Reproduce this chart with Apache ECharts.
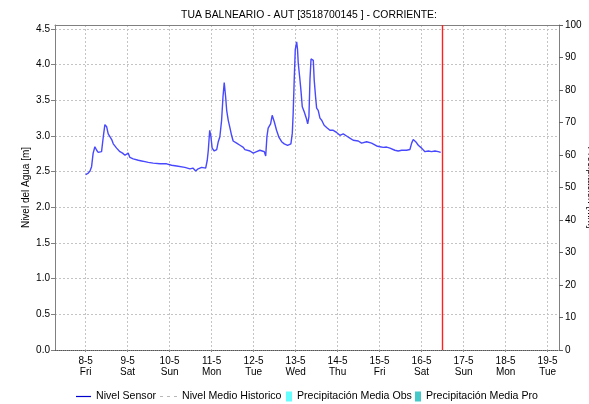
<!DOCTYPE html>
<html>
<head>
<meta charset="utf-8">
<script src="https://cdn.jsdelivr.net/npm/echarts@6/dist/echarts.min.js"></script>
<style>
html,body{margin:0;padding:0;background:#fff}
#chart{width:589px;height:404px}
</style>
</head>
<body>
<div id="chart"></div>
<script>
// Time of each reading, in hours since 8-5 00:00
const hours = [
  0, 1.5, 2.5, 3.4, 4.3, 5.3, 6.3, 7.2, 8.2, 9.1, 10.1, 11.0, 12.0, 12.9, 13.9, 14.9, 15.8, 17.7, 19.6, 21.1,
  22.5, 24.3, 25.3, 27.2, 30.1, 32.0, 33.9, 35.8, 36.7, 38.6, 42.5, 46.3, 49.1, 52.0, 53.0, 56.7, 57.7, 59.6, 61.3, 62.9,
  64.3, 66.3, 68.6, 69.5, 70.1, 70.9, 71.6, 72.3, 73.5, 74.9, 75.8, 76.7, 77.7, 78.5, 79.2, 80.0, 80.6, 81.5, 82.5, 83.4,
  84.3, 86.3, 88.2, 90.1, 91.0, 92.0, 93.9, 95.8, 97.7, 99.6, 100.9, 102.1, 102.9, 103.6, 104.3, 105.7, 106.6, 107.8, 109.1, 110.5,
  112.0, 113.5, 115.4, 117.3, 118.1, 118.6, 119.2, 119.8, 120.6, 121.1, 121.5, 122.3, 123.0, 123.8, 124.9, 126.1, 126.9, 127.6, 128.2, 128.8,
  129.5, 130.1, 130.6, 131.4, 132.0, 132.9, 133.9, 134.9, 136.3, 137.7, 139.6, 141.5, 143.4, 145.3, 147.2, 149.1, 150.1, 151.0, 152.9, 155.8,
  157.7, 160.6, 163.4, 166.3, 168.2, 170.1, 172.0, 173.9, 176.7, 178.6, 180.6, 183.4, 185.3, 186.3, 187.2, 188.6, 190.1, 192.0, 193.9, 195.8,
  197.7, 199.6, 201.5, 202.9
];

// Water level from the sensor [m]
const nivelSensor = [
  2.46, 2.48, 2.51, 2.57, 2.76, 2.85, 2.80, 2.77, 2.75, 2.78, 2.99, 3.16, 3.13, 3.03, 3.01, 2.95, 2.89, 2.83, 2.78, 2.76,
  2.73, 2.76, 2.70, 2.68, 2.66, 2.65, 2.64, 2.63, 2.645, 2.62, 2.61, 2.61, 2.59, 2.58, 2.56, 2.56, 2.57, 2.54, 2.55, 2.51,
  2.54, 2.56, 2.55, 2.66, 2.80, 3.08, 2.99, 2.83, 2.79, 2.81, 2.92, 2.99, 3.22, 3.55, 3.75, 3.55, 3.36, 3.22, 3.11, 3.01,
  2.93, 2.90, 2.87, 2.84, 2.81, 2.83, 2.79, 2.76, 2.78, 2.80, 2.79, 2.78, 2.72, 2.99, 3.11, 3.17, 3.29, 3.20, 3.08, 2.98,
  2.92, 2.89, 2.87, 2.89, 3.04, 3.32, 3.79, 4.21, 4.32, 4.21, 4.02, 3.83, 3.65, 3.41, 3.34, 3.25, 3.17, 3.27, 3.79, 4.08,
  4.06, 4.06, 3.79, 3.55, 3.39, 3.36, 3.25, 3.22, 3.15, 3.12, 3.08, 3.08, 3.05, 3.01, 3.03, 3.00, 3.01, 2.97, 2.94, 2.93,
  2.90, 2.92, 2.90, 2.86, 2.85, 2.84, 2.845, 2.83, 2.80, 2.79, 2.80, 2.80, 2.81, 2.90, 2.95, 2.92, 2.87, 2.83, 2.78, 2.79,
  2.78, 2.79, 2.78, 2.77
];

// Daily ticks (hours) and their labels
const dayTicks = [0, 24, 48, 72, 96, 120, 144, 168, 192, 216, 240, 264];
const dayLabels = [
  '8-5\nFri', '9-5\nSat', '10-5\nSun', '11-5\nMon', '12-5\nTue', '13-5\nWed',
  '14-5\nThu', '15-5\nFri', '16-5\nSat', '17-5\nSun', '18-5\nMon', '19-5\nTue'
];

// Current time marker (hours since 8-5 00:00)
const nowHour = 203.6;

// Time window shown on the x axis (hours)
const xMin = -17.5;
const xMax = 270.5;

const FONT = 'Liberation Sans, Arial, sans-serif';
const gridLine = { color: '#c4c4c4', width: 1, type: [2, 2] };
const legendText = { fontFamily: FONT, fontSize: 10.6, color: '#000' };

// One legend block per entry so each keeps its own icon size
function legendBlock(name, left, width, icon, color) {
  return {
    left: left,
    bottom: 2,
    padding: 0,
    itemWidth: width,
    itemHeight: 10,
    symbolKeepAspect: true,
    textStyle: legendText,
    data: [{ name: name, icon: icon, itemStyle: { color: color } }]
  };
}

const chart = echarts.init(document.getElementById('chart'), null, { renderer: 'canvas' });

chart.setOption({
  animation: false,
  backgroundColor: '#ffffff',
  textStyle: { fontFamily: FONT },
  title: {
    text: 'TUA BALNEARIO - AUT [3518700145 ] - CORRIENTE:',
    left: 304,
    textAlign: 'center',
    top: 5,
    textStyle: { fontFamily: FONT, fontSize: 10.4, fontWeight: 'normal', color: '#000' }
  },
  grid: { left: 55, right: 30, top: 25, bottom: 54, outerBoundsMode: 'none', containLabel: false, show: false },
  legend: [
    legendBlock('Nivel Sensor', 76, 15, 'path://M0,4.5h15v1.2h-15z', '#0000cc'),
    legendBlock('Nivel Medio Historico', 160, 17, 'path://M0,4.5h3v1h-3zM7,4.5h3v1h-3zM14,4.5h3v1h-3z', '#b8b8b8'),
    legendBlock('Precipitación Media Obs', 286, 6, 'path://M0,0h6v10h-6z', '#66ffff'),
    legendBlock('Precipitación Media Pro', 415, 6, 'path://M0,0h6v10h-6z', '#44c8c8')
  ],
  xAxis: [
    {
      type: 'value',
      min: xMin,
      max: xMax,
      position: 'bottom',
      axisLine: { show: true, onZero: false, lineStyle: { color: '#555', width: 1, type: [1, 1] } },
      axisTick: { show: true, length: 2, customValues: dayTicks, lineStyle: { color: '#888' } },
      axisLabel: {
        customValues: dayTicks,
        formatter: v => dayLabels[Math.round(v / 24)] || '',
        fontFamily: FONT,
        fontSize: 10,
        lineHeight: 11,
        color: '#000',
        margin: 6
      },
      splitLine: { show: true, lineStyle: gridLine }
    },
    {
      type: 'value',
      min: xMin,
      max: xMax,
      position: 'top',
      axisLine: { show: true, onZero: false, lineStyle: { color: '#808080', width: 1 } },
      axisTick: { show: false },
      axisLabel: { show: false },
      splitLine: { show: false }
    }
  ],
  yAxis: [
    {
      type: 'value',
      min: 0,
      max: 4.556,
      interval: 0.5,
      name: 'Nivel del Agua [m]',
      nameLocation: 'middle',
      nameRotate: 90,
      nameGap: 24,
      nameMoveOverlap: false,
      nameTextStyle: { fontFamily: FONT, fontSize: 10, color: '#000' },
      axisLine: { show: true, onZero: false, lineStyle: { color: '#808080', width: 1 } },
      axisTick: { show: true, length: 4, lineStyle: { color: '#808080' } },
      axisLabel: {
        showMaxLabel: false,
        formatter: v => v.toFixed(1),
        fontFamily: FONT,
        fontSize: 10,
        color: '#000',
        margin: 5
      },
      splitLine: { show: true, lineStyle: gridLine }
    },
    {
      type: 'value',
      min: 0,
      max: 100,
      interval: 10,
      position: 'right',
      name: 'Precipitación [mm]',
      nameLocation: 'middle',
      nameRotate: -90,
      nameGap: 27,
      nameMoveOverlap: false,
      nameTextStyle: { fontFamily: FONT, fontSize: 10, color: '#000' },
      axisLine: { show: true, onZero: false, lineStyle: { color: '#808080', width: 1 } },
      axisTick: { show: true, length: 4, lineStyle: { color: '#606060' } },
      axisLabel: { fontFamily: FONT, fontSize: 10, color: '#000', margin: 6 },
      splitLine: { show: false }
    }
  ],
  series: [
    {
      name: 'Nivel Sensor',
      type: 'line',
      xAxisIndex: 0,
      yAxisIndex: 0,
      showSymbol: false,
      symbol: 'none',
      lineStyle: { color: '#4848ff', width: 1.4 },
      itemStyle: { color: '#0000cc' },
      data: hours.map((h, i) => [h, nivelSensor[i]]),
      markLine: {
        silent: true,
        symbol: ['none', 'none'],
        label: { show: false },
        lineStyle: { color: '#ff2020', width: 1.4, type: 'solid' },
        data: [{ xAxis: nowHour }]
      }
    },
    {
      name: 'Nivel Medio Historico',
      type: 'line',
      xAxisIndex: 0,
      yAxisIndex: 0,
      symbol: 'none',
      lineStyle: { color: '#b8b8b8', width: 1, type: [3, 3] },
      itemStyle: { color: '#b8b8b8' },
      data: []
    },
    {
      name: 'Precipitación Media Obs',
      type: 'bar',
      xAxisIndex: 0,
      yAxisIndex: 1,
      itemStyle: { color: '#66ffff' },
      data: []
    },
    {
      name: 'Precipitación Media Pro',
      type: 'bar',
      xAxisIndex: 0,
      yAxisIndex: 1,
      itemStyle: { color: '#44c8c8' },
      data: []
    }
  ]
});
</script>
</body>
</html>
